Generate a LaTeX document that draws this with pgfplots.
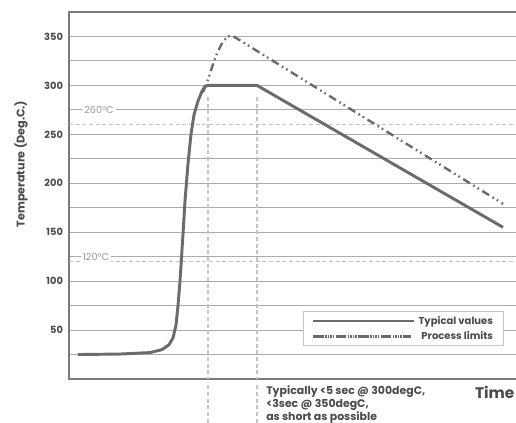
\documentclass[border=0pt]{standalone}
\usepackage{fontspec}
\setmainfont{Poppins}
\usepackage{pgfplots}
\pgfplotsset{compat=1.18}
\definecolor{gridc}{HTML}{ABABAB}
\definecolor{axc}{HTML}{7A7A7A}
\definecolor{linec}{HTML}{6B6B6B}
\definecolor{txtc}{HTML}{4A4A4A}
\definecolor{dashc}{HTML}{C4C4C4}
\definecolor{lblc}{HTML}{9A9A9A}
\begin{document}
\begin{tikzpicture}
\useasboundingbox (0,0) rectangle (387pt,317.25pt);
\clip (0,0) rectangle (387pt,317.25pt);
\begin{axis}[
 at={(51.75pt,33pt)}, anchor=south west, scale only axis,
 width=337.5pt, height=275.25pt,
 xmin=0, xmax=450, ymin=0, ymax=375,
 xtick=\empty, ytick={50,100,...,350}, minor ytick={25,75,...,325},
 ymajorgrids, yminorgrids,
 major grid style={gridc, line width=0.8pt},
 minor grid style={gridc, line width=0.8pt},
 major tick length=0pt, minor tick length=0pt,
 axis line style={axc, line width=1.8pt},
 yticklabel style={font=\bfseries\fontsize{7.4}{8}\selectfont, text=txtc, xshift=-1pt},
 /pgf/number format/assume math mode=true,
 clip=false,
 legend style={at={(axis cs:435,33.7)}, anchor=south east, draw=dashc, line width=0.6pt, fill=white,
   font=\bfseries\fontsize{7.5}{8}\selectfont, text=txtc, inner xsep=6pt, inner ysep=1.2pt},
 legend cell align=right,
 legend image code/.code={\path (-2pt,0pt) -- (74pt,0pt); \draw[#1] (0pt,0pt) -- (66.75pt,0pt);},
]
% reference lines
\addplot[dashc, line width=0.8pt, dash pattern=on 3pt off 2pt, forget plot] coordinates {(0,260) (450,260)};
\addplot[dashc, line width=0.8pt, dash pattern=on 3pt off 2pt, forget plot] coordinates {(0,120) (450,120)};
\addplot[dashc, line width=0.8pt, dash pattern=on 3pt off 2pt, forget plot] coordinates {(139,288) (139,0)};
\addplot[dashc, line width=0.8pt, dash pattern=on 3pt off 2pt, forget plot] coordinates {(188,288) (188,0)};
\addplot[dashc, line width=0.8pt, dash pattern=on 3pt off 2pt, forget plot] coordinates {(139,-6.5) (139,-46)};
\addplot[dashc, line width=0.8pt, dash pattern=on 3pt off 2pt, forget plot] coordinates {(188,-6.5) (188,-46)};
\node[fill=white, inner sep=1.5pt, text=lblc, font=\fontsize{7.3}{8}\selectfont] at (axis cs:30,275) {260°C};
\node[fill=white, inner sep=1.5pt, text=lblc, font=\fontsize{7.3}{8}\selectfont] at (axis cs:27,125) {120°C};
% curves
\addplot[linec, line width=2.2pt, line join=round] coordinates {
 (9,25) (51,25.5) (81,27) (93,30) (100,35) (104,42) (107,55) (109,75) (111,100) (114,148) (116,182)
 (119,220) (122,250) (125,270) (129,284) (133,294) (136,299) (139,300) (188,300) (434,155)};
\addlegendentry{Typical values}
\addplot[linec, line width=1.8pt, line join=round, dash pattern=on 6pt off 3pt on 1.2pt off 2.5pt on 1.2pt off 3pt] coordinates {
 (134,293) (138,303) (141,312) (145,325) (149,335) (154,345) (159,350) (163,351) (171,346) (434,179)};
\addlegendentry{Process limits}
\end{axis}
\node[rotate=90, font=\bfseries\fontsize{8.4}{10}\selectfont, text=txtc] at (15.75pt,194.25pt) {Temperature (Deg.C.)};
\node[anchor=north west, align=left, font=\bfseries\fontsize{8.2}{9.75}\selectfont, text=txtc, inner sep=0pt] at (199.5pt,27.8pt) {Typically <5 sec @ 300degC,\\<3sec @ 350degC,\\as short as possible};
\node[anchor=east, font=\bfseries\fontsize{11.5}{13}\selectfont, text=txtc, inner sep=0pt] at (386pt,23.25pt) {Time};
\end{tikzpicture}
\end{document}
